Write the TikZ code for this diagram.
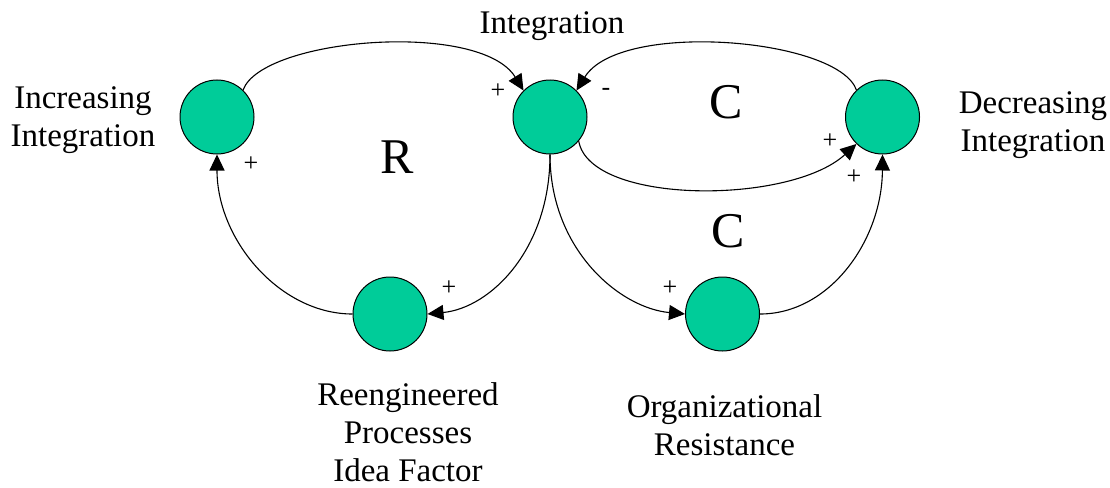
\documentclass[tikz,border=0pt]{standalone}
\usepackage{fontspec}
\setmainfont{Liberation Serif}
\usetikzlibrary{arrows.meta}
\definecolor{nodegreen}{RGB}{0,204,153}
\newcommand{\lbllines}[1]{\begin{tabular}[t]{@{}c@{}}#1\end{tabular}}
\begin{document}
\begin{tikzpicture}[x=1pt,y=-1pt,
  var/.style={circle, draw=black, fill=nodegreen, minimum size=74pt, inner sep=0pt, line width=1pt},
  link/.style={-{Triangle[length=16pt,width=15pt]}, line width=1.1pt},
  sgn/.style={font=\fontsize{26}{28}\selectfont, inner sep=0pt},
  vartext/.style={font=\fontsize{33}{38}\selectfont, inner sep=0pt, anchor=base},
  looptext/.style={font=\fontsize{50}{56}\selectfont, inner sep=0pt, anchor=base}]
\useasboundingbox (0,0) rectangle (1110,487);
% variables
\node[var] (inc) at (217,117) {};
\node[var] (int) at (550,117) {};
\node[var] (dec) at (882.5,117) {};
\node[var] (reeng) at (390,314) {};
\node[var] (org) at (722.5,314) {};
% names
\node[vartext] (tint) at (552,34) {Integration};
\node[vartext] (tinc) at (83,108) {\lbllines{Increasing\\Integration}};
\node[vartext] (tdec) at (1033,113) {\lbllines{Decreasing\\Integration}};
\node[vartext] (treeng) at (408,405) {\lbllines{Reengineered\\Processes\\Idea Factor}};
\node[vartext] (torg) at (724.5,417) {\lbllines{Organizational\\Resistance}};
% loop names
\node[looptext] (lr) at (397,173) {R};
\node[looptext] (lc1) at (726,118) {C};
\node[looptext] (lc2) at (728,247) {C};
% links
\draw[link] (inc.46) .. controls (262,38) and (480,20) .. (int.135);
\draw[link] (dec.134) .. controls (838,38) and (620,20) .. (int.45);
\draw[link] (int.-40) .. controls (590,205) and (790,205) .. (dec.-134);
\draw[link] (int.-90) .. controls (550,250) and (490,308) .. (reeng.0);
\draw[link] (int.-90) .. controls (550,250) and (620,308) .. (org.180);
\draw[link] (reeng.180) .. controls (280,314) and (217,240) .. (inc.-90);
\draw[link] (org.0) .. controls (830,314) and (882,240) .. (dec.-90);
% signs
\node[sgn] (s1) at (498,91) {+};
\node[sgn] (s2) at (606,92) {-};
\node[sgn] (s3) at (830,141) {+};
\node[sgn] (s4) at (854,177) {+};
\node[sgn] (s5) at (251,164) {+};
\node[sgn] (s6) at (449,288) {+};
\node[sgn] (s7) at (670,288) {+};
\end{tikzpicture}
\end{document}
